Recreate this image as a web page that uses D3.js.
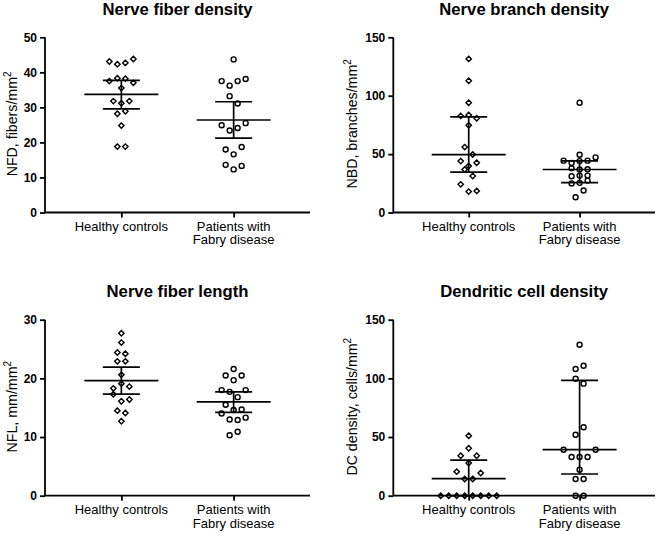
<!DOCTYPE html>
<html>
<head>
<meta charset="utf-8">
<script src="https://cdn.jsdelivr.net/npm/d3@7"></script>
<style>
  html, body { margin: 0; padding: 0; background: #fff; }
  svg { display: block; font-family: "Liberation Sans", Arial, sans-serif; }
</style>
</head>
<body>
<svg id="chart" width="660" height="534"></svg>
<script>
// ---------------- data ----------------
const categories = ["Healthy controls", "Patients with\nFabry disease"];

const titles = ["Nerve fiber density", "Nerve branch density", "Nerve fiber length", "Dendritic cell density"];
const yLabelMain = ["NFD, fibers/mm", "NBD, branches/mm", "NFL, mm/mm", "DC density, cells/mm"];

const nfdTicks = [0, 10, 20, 30, 40, 50];
const nbdTicks = [0, 50, 100, 150];
const nflTicks = [0, 10, 20, 30];
const dcTicks  = [0, 50, 100, 150];

// individual values (listed row by row, left to right)
const nfdHealthy  = [43.1, 42.3, 42.7, 43.8, 37.5, 38.3, 38.2, 37.0, 35.5, 31.8, 31.2, 31.8, 28.2, 28.9, 24.8, 18.8, 18.8];
const nfdPatients = [43.7, 37.5, 36.2, 37.5, 38.1, 33.2, 31.1, 24.9, 23.4, 24.1, 25.5, 18.0, 16.6, 18.7, 13.6, 12.3, 13.3];

const nbdHealthy  = [131.5, 112.8, 94.0, 82.7, 83.5, 80.7, 74.7, 56.0, 49.7, 44.0, 39.8, 42.6, 36.8, 31.3, 24.1, 17.9, 18.5];
const nbdPatients = [94.0, 44.4, 42.4, 44.0, 44.4, 47.2, 49.5, 37.8, 36.8, 37.0, 31.0, 31.6, 31.6, 24.8, 25.4, 27.3, 13.1, 18.8];

const nflHealthy  = [27.7, 26.1, 24.4, 24.2, 22.9, 22.9, 20.6, 18.3, 19.1, 18.6, 17.3, 16.1, 16.4, 14.5, 14.1, 12.7];
const nflPatients = [20.5, 21.6, 20.5, 19.7, 18.0, 17.7, 16.8, 18.0, 15.5, 14.6, 14.7, 14.0, 13.0, 12.9, 13.3, 10.3, 10.9];

const dcHealthy   = [51.1, 34.1, 40.4, 34.1, 27.9, 20.5, 14.2, 14.2, 19.3, 0, 0, 0, 0, 0, 0, 0, 0];
const dcPatients  = [128.7, 108.0, 110.8, 99.7, 95.5, 52.0, 58.3, 39.2, 33.0, 33.0, 33.0, 39.2, 22.2, 14.2, 14.2, 0, 0];

// median and interquartile range per group [healthy, patients]
const nfdMedian = [33.7, 26.4], nfdQ1 = [29.6, 21.2], nfdQ3 = [37.7, 31.6];
const nbdMedian = [49.6, 36.8], nbdQ1 = [34.5, 25.6], nbdQ3 = [81.8, 44.2];
const nflMedian = [19.6, 16.0], nflQ1 = [17.3, 14.2], nflQ3 = [21.9, 17.7];
const dcMedian  = [14.5, 39.2], dcQ1  = [0, 18.5],    dcQ3  = [30.4, 98.3];

// ---------------- drawing ----------------
const svg = d3.select("#chart");

const panels = [
  { title: titles[0], ylab: yLabelMain[0], ticks: nfdTicks, groups: [nfdHealthy, nfdPatients], med: nfdMedian, q1: nfdQ1, q3: nfdQ3,
    left: 45, right: 310, top: 37.3, bottom: 212.5, titleY: 15, ylabX: 17 },
  { title: titles[1], ylab: yLabelMain[1], ticks: nbdTicks, groups: [nbdHealthy, nbdPatients], med: nbdMedian, q1: nbdQ1, q3: nbdQ3,
    left: 393.3, right: 655, top: 37.3, bottom: 212.5, titleY: 15, ylabX: 356.5 },
  { title: titles[2], ylab: yLabelMain[2], ticks: nflTicks, groups: [nflHealthy, nflPatients], med: nflMedian, q1: nflQ1, q3: nflQ3,
    left: 45, right: 310, top: 319.7, bottom: 495.7, titleY: 296.5, ylabX: 17 },
  { title: titles[3], ylab: yLabelMain[3], ticks: dcTicks, groups: [dcHealthy, dcPatients], med: dcMedian, q1: dcQ1, q3: dcQ3,
    left: 393.3, right: 655, top: 319.7, bottom: 495.7, titleY: 296.5, ylabX: 356.5 }
];

const ROW_T = 7.6, STEP = 8;
function layout(values, y, cx) {
  const rows = []; let cur = [];
  values.forEach(v => {
    const ys = cur.concat([v]).map(y);
    if (cur.length && (d3.max(ys) - d3.min(ys)) >= ROW_T) { rows.push(cur); cur = [v]; }
    else cur.push(v);
  });
  if (cur.length) rows.push(cur);
  const pts = [];
  rows.forEach(r => r.forEach((v, i) => pts.push({ v, x: cx + (i - (r.length - 1) / 2) * STEP, y: y(v) })));
  return pts;
}

const dR = 2.7;
const diamondPath = `M0,${-dR}L${dR},0L0,${dR}L${-dR},0Z`;

panels.forEach(p => {
  const g = svg.append("g");
  const y = d3.scaleLinear().domain([0, d3.max(p.ticks)]).range([p.bottom, p.top]);
  const x = d3.scalePoint().domain(categories).range([p.left, p.right]).padding(0.68);

  // y axis
  const yAx = g.append("g").attr("transform", `translate(${p.left},0)`)
    .call(d3.axisLeft(y).tickValues(p.ticks).tickSize(5).tickPadding(3).tickFormat(d3.format("d")));
  yAx.select(".domain").attr("stroke", "#000").attr("stroke-width", 1.8).attr("d", `M0,${p.bottom}V${p.top}`);
  yAx.selectAll(".tick line").attr("stroke", "#000").attr("stroke-width", 1.8);
  yAx.selectAll(".tick text").attr("fill", "#000").style("font-size", "12px").style("font-weight", "bold")
    .style("font-family", "'Liberation Sans', Arial, sans-serif");

  // x axis
  const xAx = g.append("g").attr("transform", `translate(0,${p.bottom})`)
    .call(d3.axisBottom(x).tickSize(5).tickFormat(""));
  xAx.select(".domain").attr("stroke", "#000").attr("stroke-width", 1.8).attr("d", `M${p.left},0H${p.right}`);
  xAx.selectAll(".tick line").attr("stroke", "#000").attr("stroke-width", 1.8);
  xAx.selectAll(".tick text").remove();

  // category labels
  categories.forEach(c => {
    const t = g.append("text").attr("text-anchor", "middle").attr("fill", "#000")
      .style("font-size", "13px").attr("x", x(c)).attr("y", p.bottom + 18.3);
    c.split("\n").forEach((line, i) => {
      t.append("tspan").attr("x", x(c)).attr("dy", i === 0 ? 0 : 13.5).text(line);
    });
  });

  // title
  g.append("text").attr("x", (p.left + p.right) / 2).attr("y", p.titleY)
    .attr("text-anchor", "middle").attr("fill", "#000")
    .style("font-size", "16.7px").style("font-weight", "bold").text(p.title);

  // y label
  const yl = g.append("text")
    .attr("transform", `translate(${p.ylabX},${(p.top + p.bottom) / 2 - 1}) rotate(-90)`)
    .attr("text-anchor", "middle").attr("fill", "#000").style("font-size", "14.2px");
  yl.append("tspan").text(p.ylab);
  yl.append("tspan").attr("dy", -6).style("font-size", "10px").text("2");

  // points
  p.groups.forEach((vals, gi) => {
    const cx = x(categories[gi]);
    const pts = layout(vals, y, cx);
    if (gi === 0) {
      g.append("g").selectAll("path").data(pts).join("path")
        .attr("d", diamondPath)
        .attr("transform", d => `translate(${d.x},${d.y})`)
        .attr("fill", "none").attr("stroke", "#000").attr("stroke-width", 1.4);
    } else {
      g.append("g").selectAll("circle").data(pts).join("circle")
        .attr("cx", d => d.x).attr("cy", d => d.y).attr("r", 2.5)
        .attr("fill", "none").attr("stroke", "#000").attr("stroke-width", 1.4);
    }

    // median + IQR
    const lw = 1.7;
    g.append("line").attr("x1", cx - 37).attr("x2", cx + 37)
      .attr("y1", y(p.med[gi])).attr("y2", y(p.med[gi])).attr("stroke", "#000").attr("stroke-width", lw);
    g.append("line").attr("x1", cx).attr("x2", cx)
      .attr("y1", y(p.q1[gi])).attr("y2", y(p.q3[gi])).attr("stroke", "#000").attr("stroke-width", lw);
    [p.q1[gi], p.q3[gi]].forEach(q => {
      g.append("line").attr("x1", cx - 18.5).attr("x2", cx + 18.5)
        .attr("y1", y(q)).attr("y2", y(q)).attr("stroke", "#000").attr("stroke-width", lw);
    });
  });
});
</script>
</body>
</html>
